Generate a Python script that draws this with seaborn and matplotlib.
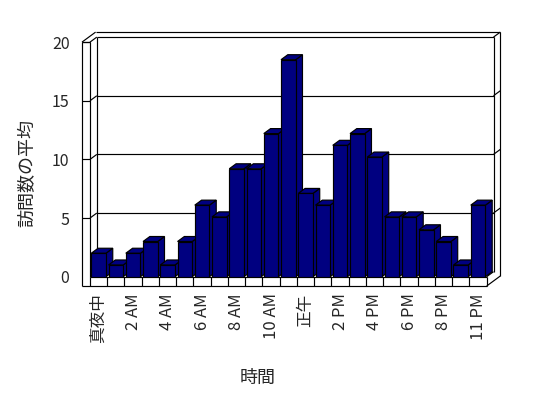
import matplotlib
matplotlib.use("Agg")
import matplotlib.pyplot as plt
from matplotlib.patches import Polygon
import seaborn as sns

# --- datos: visitas promedio por hora (falta 10 PM) ---
hour_labels = ['真夜中', '1 AM', '2 AM', '3 AM', '4 AM', '5 AM', '6 AM', '7 AM',
               '8 AM', '9 AM', '10 AM', '11 AM', '正午', '1 PM', '2 PM', '3 PM',
               '4 PM', '5 PM', '6 PM', '7 PM', '8 PM', '9 PM', '11 PM']
avg_visits = [2, 1, 2, 3, 1, 3, 6.1, 5.1, 9.2, 9.2, 12.2, 18.5,
              7.1, 6.1, 11.2, 12.2, 10.2, 5.1, 5.1, 4, 3, 1, 6.1]
y_ticks = [0, 5, 10, 15, 20]

sns.set_style('white')
plt.rcParams['font.family'] = ['Noto Sans CJK JP', 'DejaVu Sans']

W_PX, H_PX = 548, 398
fig = plt.figure(figsize=(W_PX / 100, H_PX / 100), dpi=100)
ax_l, ax_r, ax_b, ax_t = 90, 486.7, 276.7, 42.1
ax = fig.add_axes([ax_l / W_PX, (H_PX - ax_b) / H_PX,
                   (ax_r - ax_l) / W_PX, (ax_b - ax_t) / H_PX])

n = len(hour_labels)
sns.barplot(x=hour_labels, y=avg_visits, color='#000080', saturation=1,
            width=0.85, edgecolor='black', linewidth=0.85, ax=ax)
ax.set_xlim(-0.5, n - 0.5)
ax.set_ylim(0, 20)

# pixel -> unidades de datos para el efecto 3D
px_x = (ax_r - ax_l) / n
px_y = (ax_b - ax_t) / 20
DX, DY = 6.8 / px_x, 5 / px_y
WALL = 8 / px_x
FLOOR = -9.3 / px_y
x0, x1 = -0.5, n - 0.5

lk = dict(color='black', lw=0.85, clip_on=False, zorder=1, solid_capstyle='butt')

def seg(xs, ys):
    ax.plot(xs, ys, **lk)

# pared izquierda
seg([x0 - WALL, x0 - WALL], [FLOOR, 20])
seg([x0, x0], [0, 20])
seg([x0 - WALL, x0], [20, 20])
seg([x0 - WALL, x0 - WALL + 2 * DX], [20, 20 + 2 * DY])
# pared del fondo (interior y exterior)
seg([x0 + DX, x0 + DX], [DY, 20 + DY])
seg([x1 + DX, x1 + DX], [DY, 20 + DY])
seg([x0 - WALL + 2 * DX, x1 + 2 * DX], [20 + 2 * DY, 20 + 2 * DY])
seg([x1 + 2 * DX, x1 + 2 * DX], [20 + 2 * DY, FLOOR + 2 * DY])
seg([x1 + 2 * DX, x1], [FLOOR + 2 * DY, FLOOR])
seg([x1, x1 + DX], [0, DY])
# lineas de cuadricula con marcas
for t in y_ticks[1:]:
    seg([x0 - WALL, x0], [t, t])
    seg([x0, x0 + DX], [t, t + DY])
    seg([x0 + DX, x1 + DX], [t + DY, t + DY])
    seg([x1 + DX, x1 + 2 * DX], [t + DY, t + 2 * DY])
# piso frontal con celdas
seg([x0 - WALL, x1], [FLOOR, FLOOR])
seg([x0, x1], [0, 0])
for k in range(n + 1):
    seg([x0 + k, x0 + k], [0, FLOOR])

# caras laterales y superiores de cada barra
for i, p in enumerate(ax.patches):
    bx, bw, bh = p.get_x(), p.get_width(), p.get_height()
    z = 2 + i * 0.01
    side = [(bx + bw, 0), (bx + bw + DX, DY), (bx + bw + DX, bh + DY), (bx + bw, bh)]
    top = [(bx, bh), (bx + DX, bh + DY), (bx + bw + DX, bh + DY), (bx + bw, bh)]
    for pts in (side, top):
        ax.add_patch(Polygon(pts, closed=True, facecolor='#000080', edgecolor='black',
                             lw=0.85, zorder=z, clip_on=False))
    p.set_zorder(z + 0.005)

# ejes
sns.despine(ax=ax, left=True, bottom=True, top=True, right=True)
ax.set_yticks(y_ticks)
ax.set_yticklabels([str(t) for t in y_ticks], fontsize=11.5)
ax.tick_params(axis='y', length=0, pad=14.8)
shown = list(range(0, n, 2))
ax.set_xticks(shown)
ax.set_xticklabels([hour_labels[i] for i in shown], rotation=90, fontsize=12)
ax.tick_params(axis='x', length=0, pad=12)

ax.set_xlabel('時間', fontsize=13)
ax.xaxis.set_label_coords((258 - ax_l) / (ax_r - ax_l), (ax_b - 369) / (ax_b - ax_t))
ax.set_ylabel('訪問数の平均', fontsize=13)
ax.yaxis.set_label_coords((36 - ax_l) / (ax_r - ax_l), (ax_b - 173) / (ax_b - ax_t))

fig.savefig('out.png', dpi=100, facecolor='white')
